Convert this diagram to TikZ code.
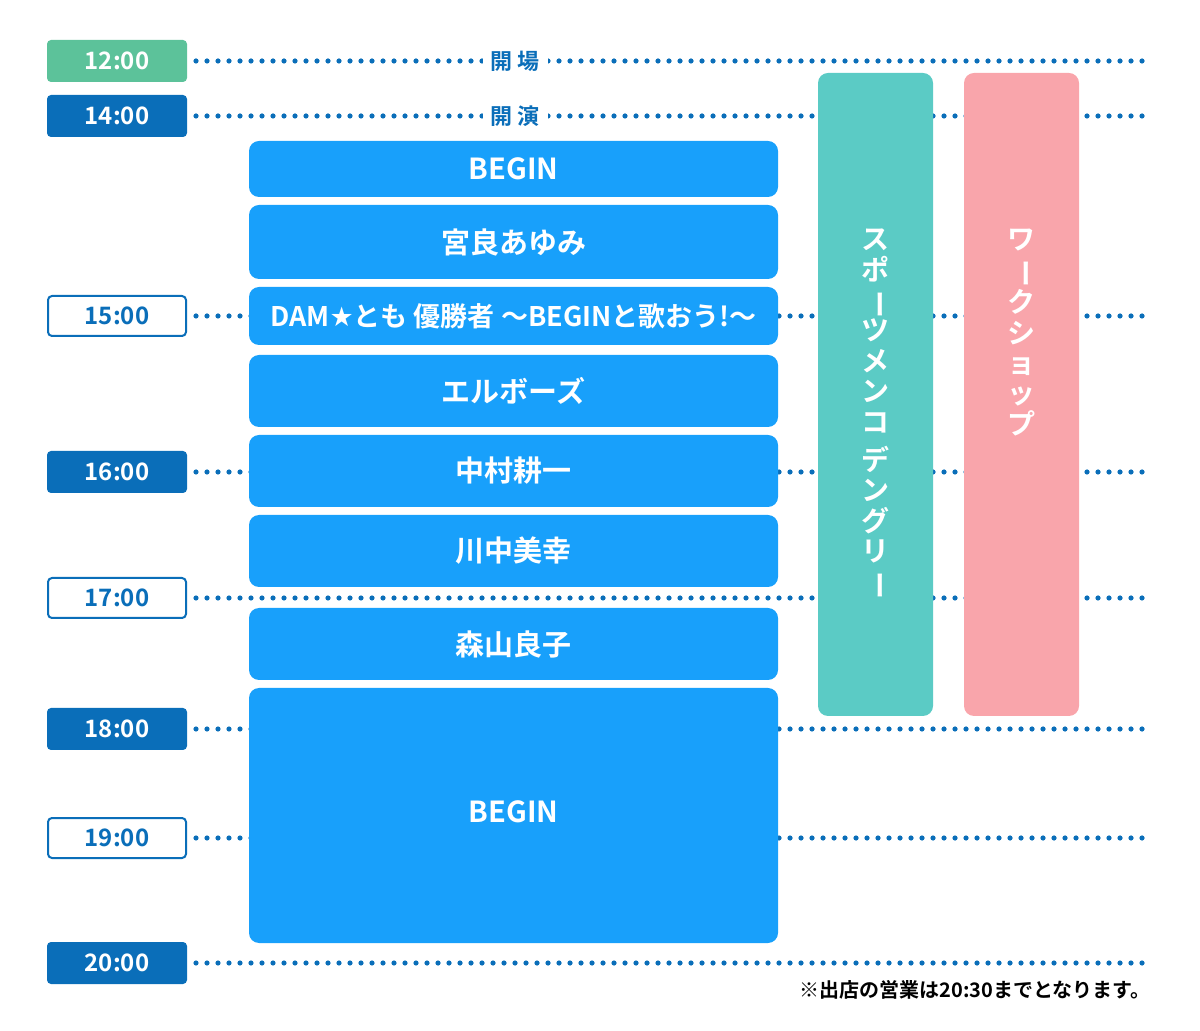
\documentclass[tikz,border=0pt]{standalone}
\usepackage{fontspec}
\setmainfont{Noto Sans CJK JP Bold}
\newfontfamily\jpfont{Noto Sans CJK JP Bold}
\definecolor{dkblue}{HTML}{0A6EB9}
\definecolor{green1}{HTML}{5CC29A}
\definecolor{sky}{HTML}{18A0FB}
\definecolor{teal1}{HTML}{5BCBC5}
\definecolor{pink1}{HTML}{F9A5AB}
\newcommand{\vbar}{\rotatebox[origin=c]{-90}{ー}}
\begin{document}
\begin{tikzpicture}[x=0.5pt,y=-0.5pt,
  tfill/.style={fill=dkblue,text=white,rounded corners=2pt,minimum width=70pt,minimum height=21pt,font=\fontsize{12}{12}\selectfont},
  tline/.style={draw=dkblue,line width=1pt,fill=white,text=dkblue,rounded corners=2pt,minimum width=69pt,minimum height=20pt,font=\fontsize{12}{12}\selectfont},
  dots/.style={dkblue,line width=2.6pt,line cap=round,dash pattern=on 0pt off 5.5pt},
  prog/.style={fill=sky,text=white,rounded corners=5pt,minimum width=264.5pt,font=\fontsize{14.5}{14.5}\selectfont},
  side/.style={rounded corners=5pt,minimum width=57.5pt,minimum height=321.5pt,text=white,font=\fontsize{14}{15.5}\selectfont,align=center}]
\useasboundingbox (0,0) rectangle (1200,1031);
% dotted lines
\foreach \y in {61,116,316,472,598,729,838,963} \draw[dots] (196,\y) -- (1145,\y);
\node[fill=white,text=dkblue,font=\fontsize{11}{11}\selectfont,inner xsep=4pt] (kaijo) at (515,61) {開 場};
\node[fill=white,text=dkblue,font=\fontsize{11}{11}\selectfont,inner xsep=4pt] (kaien) at (515,116) {開 演};
% time labels
\node[tfill,fill=green1] (t12) at (117,61) {12:00};
\node[tfill] (t14) at (117,116) {14:00};
\node[tline] (t15) at (117,316) {15:00};
\node[tfill] (t16) at (117,472) {16:00};
\node[tline] (t17) at (117,598) {17:00};
\node[tfill] (t18) at (117,729) {18:00};
\node[tline] (t19) at (117,838) {19:00};
\node[tfill] (t20) at (117,963) {20:00};
% programme
\node[prog,minimum height=28pt] (p1) at (513.5,169) {BEGIN};
\node[prog,minimum height=37pt] (p2) at (513.5,242) {宮良あゆみ};
\node[prog,minimum height=29pt,font=\fontsize{13.5}{13.5}\selectfont] (p3) at (513.5,316) {DAM{\fontspec{DejaVu Sans}★}とも 優勝者 〜BEGINと歌おう!〜};
\node[prog,minimum height=36pt] (p4) at (513.5,391) {エルボーズ};
\node[prog,minimum height=36pt] (p5) at (513.5,471) {中村耕一};
\node[prog,minimum height=36pt] (p6) at (513.5,551) {川中美幸};
\node[prog,minimum height=36pt] (p7) at (513.5,644) {森山良子};
\node[prog,minimum height=127.5pt] (p8) at (513.5,815.5) {};
\node[text=white,font=\fontsize{14.5}{14.5}\selectfont] (p8t) at (513.5,812) {BEGIN};
% side boxes
\node[side,fill=teal1] (s1) at (875.5,394.5) {};
\node[side,fill=pink1] (s2) at (1021.5,394.5) {};
\node[text=white,font=\fontsize{14}{15.2}\selectfont,align=center,anchor=north] (s1t) at (875.5,222) {ス\\ポ\\\vbar\\ツ\\メ\\ン\\コ\\[4pt]デ\\ン\\グ\\リ\\\vbar};
\node[text=white,font=\fontsize{14}{15.2}\selectfont,align=center,anchor=north] (s2t) at (1021.5,222) {ワ\\\vbar\\ク\\シ\\ョ\\ッ\\プ};
% footnote
\node[anchor=east,font=\fontsize{10}{10}\selectfont] (fn) at (1158,990) {※出店の営業は20:30までとなります。};
\end{tikzpicture}
\end{document}
